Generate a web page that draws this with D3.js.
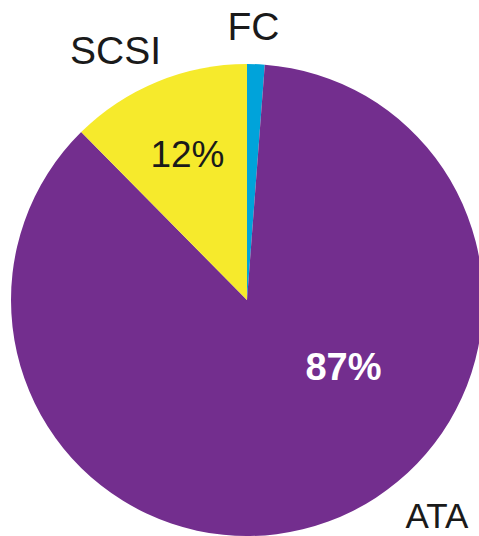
<!DOCTYPE html>
<html><head><meta charset="utf-8">
<script src="https://cdn.jsdelivr.net/npm/d3@7"></script>
<style>html,body{margin:0;padding:0;background:#fff;}svg{display:block;}</style>
</head><body>
<svg id="c" width="479" height="536"></svg>
<script>
const categories = ["FC", "ATA", "SCSI"];
const values = [1.2, 86.4, 12.4];
const colors = ["#00a3da", "#732e8e", "#f6ea2c"];
const pctLabels = ["", "87%", "12%"];

const W = 479, H = 536, cx = 247, cy = 300, R = 236;
const svg = d3.select("#c");
const g = svg.append("g").attr("transform", `translate(${cx},${cy})`);

const data = categories.map((c, i) => ({ cat: c, value: values[i], color: colors[i], pct: pctLabels[i] }));
const pie = d3.pie().value(d => d.value).sort(null);
const arcs = pie(data);
const arc = d3.arc().innerRadius(0).outerRadius(R);

g.selectAll("path").data(arcs).enter().append("path")
  .attr("d", arc).attr("fill", d => d.data.color);

const catPos = {
  FC:   { x: 253.5 - cx, y: 40 - cy, size: 39 },
  SCSI: { x: 115.5 - cx, y: 64 - cy, size: 39 },
  ATA:  { x: 437 - cx,   y: 528 - cy, size: 35 }
};
g.selectAll("text.cat").data(arcs).enter().append("text")
  .attr("class", "cat")
  .attr("x", d => catPos[d.data.cat].x)
  .attr("y", d => catPos[d.data.cat].y)
  .attr("text-anchor", "middle")
  .attr("font-family", "Liberation Sans, Arial, sans-serif")
  .attr("font-size", d => catPos[d.data.cat].size)
  .attr("fill", "#1a1a1a")
  .text(d => d.data.cat);

const pctPos = {
  ATA:  { x: 343.5 - cx, y: 380 - cy, size: 38, weight: "bold", fill: "#ffffff" },
  SCSI: { x: 187.5 - cx, y: 167 - cy, size: 37, weight: "normal", fill: "#1a1a1a" }
};
g.selectAll("text.pct").data(arcs.filter(d => d.data.pct)).enter().append("text")
  .attr("class", "pct")
  .attr("x", d => pctPos[d.data.cat].x)
  .attr("y", d => pctPos[d.data.cat].y)
  .attr("text-anchor", "middle")
  .attr("font-family", "Liberation Sans, Arial, sans-serif")
  .attr("font-size", d => pctPos[d.data.cat].size)
  .attr("font-weight", d => pctPos[d.data.cat].weight)
  .attr("fill", d => pctPos[d.data.cat].fill)
  .text(d => d.data.pct);
</script>
</body></html>
